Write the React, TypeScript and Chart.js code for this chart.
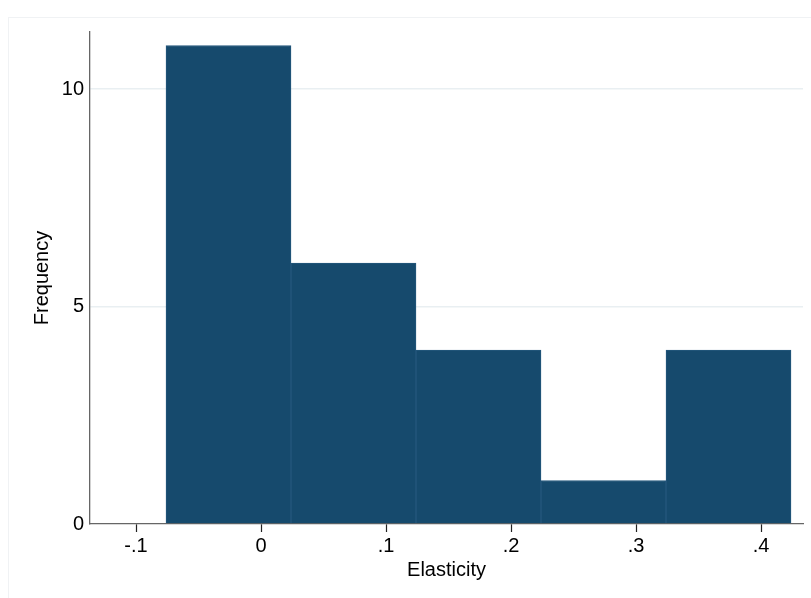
import React, { useEffect, useRef } from "react";
import { Chart, registerables } from "chart.js";

Chart.register(...registerables);

// Histogram bins (bin centers, width 0.1) and frequencies
const binCenters = [-0.026, 0.074, 0.174, 0.274, 0.374];
const frequencies = [11, 6, 4, 1, 4];
const xTicks = [-0.1, 0, 0.1, 0.2, 0.3, 0.4];
const yTicks = [0, 5, 10];
const xLabel = "Elasticity";
const yLabel = "Frequency";

const FONT = "'Liberation Sans', Arial, Helvetica, sans-serif";

function fmt(v: number): string {
  if (Math.abs(v) < 1e-9) return "0";
  const s = String(Math.round(v * 10) / 10);
  return s.replace(/^0\./, ".").replace(/^-0\./, "-.");
}

export default function App() {
  const ref = useRef<HTMLCanvasElement | null>(null);
  useEffect(() => {
    if (!ref.current) return;
    const chart = new Chart(ref.current, {
      type: "bar",
      data: {
        datasets: [
          {
            data: binCenters.map((x, i) => ({ x, y: frequencies[i] })),
            backgroundColor: "#164a6d",
            borderColor: "#24587d",
            borderWidth: 1,
            barPercentage: 1,
            categoryPercentage: 1,
          },
        ],
      },
      options: {
        animation: false,
        responsive: false,
        maintainAspectRatio: false,
        layout: { padding: { left: 0, right: 8, top: 32, bottom: 0 } },
        plugins: { legend: { display: false }, tooltip: { enabled: false } },
        scales: {
          x: {
            type: "linear",
            offset: false,
            min: -0.1368,
            max: 0.4336,
            afterBuildTicks: (s: any) => {
              s.ticks = xTicks.map((v) => ({ value: v }));
            },
            afterFit: (s: any) => {
              s.height = 74;
            },
            grid: {
              offset: false,
              drawOnChartArea: false,
              drawTicks: true,
              tickLength: 8,
              tickColor: "#222",
              tickWidth: 1.2,
            },
            border: { display: true, color: "#666", width: 1.3 },
            ticks: {
              color: "#000",
              padding: 2,
              maxRotation: 0,
              autoSkip: false,
              font: { family: FONT, size: 20 },
              callback: (v: any) => fmt(Number(v)),
            },
            title: {
              display: true,
              text: xLabel,
              color: "#000",
              font: { family: FONT, size: 20 },
              padding: { top: 0, bottom: 16 },
            },
          },
          y: {
            type: "linear",
            min: 0,
            max: 11.31,
            afterBuildTicks: (s: any) => {
              s.ticks = yTicks.map((v) => ({ value: v }));
            },
            afterFit: (s: any) => {
              s.width = 90;
            },
            grid: {
              drawTicks: false,
              color: (ctx: any) => (ctx.tick && ctx.tick.value === 0 ? "rgba(0,0,0,0)" : "#e9eff2"),
              lineWidth: 1.5,
            },
            border: { display: true, color: "#666", width: 1.3 },
            ticks: {
              color: "#000",
              padding: 6,
              autoSkip: false,
              font: { family: FONT, size: 20 },
              callback: (v: any) => String(v),
            },
            title: {
              display: true,
              text: yLabel,
              color: "#000",
              font: { family: FONT, size: 20 },
              padding: { top: 30, bottom: 0 },
            },
          },
        },
      },
    });
    return () => chart.destroy();
  }, []);
  return (
    <div style={{ position: "fixed", left: 0, top: 0, width: 811, height: 598, background: "#fff" }}>
      <div
        style={{
          position: "absolute",
          left: 8,
          top: 17,
          width: 820,
          height: 600,
          border: "1px solid #f0f2f4",
        }}
      />
      <canvas ref={ref} width={811} height={598} style={{ position: "absolute", left: 0, top: 0 }} />
    </div>
  );
}
